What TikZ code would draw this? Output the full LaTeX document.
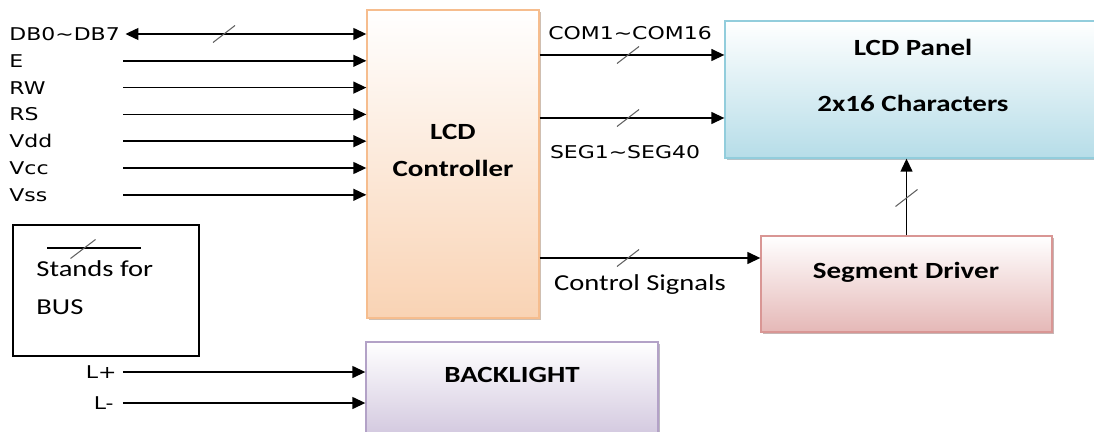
\documentclass[tikz,border=0pt]{standalone}
\usepackage{fontspec}
\usetikzlibrary{arrows.meta,shadows}
\newfontfamily\dvs{DejaVu Sans}
\newfontfamily\carl{Carlito}
\definecolor{ctrlfill}{HTML}{F9D3B4}
\definecolor{ctrlline}{HTML}{F6BD8E}
\definecolor{panelfill}{HTML}{B6DDE8}
\definecolor{panelline}{HTML}{92CDDC}
\definecolor{drvfill}{HTML}{E5B8B7}
\definecolor{drvline}{HTML}{D99694}
\definecolor{lightfill}{HTML}{CCC0DA}
\definecolor{lightline}{HTML}{B3A2C7}
\begin{document}
\begin{tikzpicture}[x=0.02cm,y=-0.02cm,
	sig/.style={font=\dvs\fontsize{10}{12}\selectfont, inner sep=0pt, xscale=1.25, transform shape},
	note/.style={font=\carl\fontsize{13}{15}\selectfont, inner sep=0pt, xscale=1.25, transform shape},
	head/.style={font=\carl\bfseries\fontsize{13.2}{15}\selectfont, inner sep=0pt, xscale=1.25, transform shape},
	blk/.style={draw=#1line, line width=0.8pt, top color=white, bottom color=#1fill,
		drop shadow={shadow xshift=1pt, shadow yshift=-1.2pt, fill=#1line!60!black, opacity=.45}},
	wire/.style={line width=0.85pt, -{Triangle[length=7.4pt,width=6.8pt]}},
	busmark/.style={draw=gray!75!black, line width=0.6pt}]
	\useasboundingbox (0,0) rectangle (1094,432);
	
	% blocks
	\node[blk=ctrl, minimum width=3.44cm, minimum height=6.16cm] (ctrl) at (453,164) {};
	\node[blk=panel, minimum width=8.4cm, minimum height=2.74cm] (panel) at (935,89.5) {};
	\node[blk=drv, minimum width=5.82cm, minimum height=1.92cm] (drv) at (906.5,284) {};
	\node[blk=light, minimum width=5.84cm, minimum height=2.16cm] (light) at (512,396) {};
	\node[draw, line width=0.8pt, minimum width=3.72cm, minimum height=2.62cm] (key) at (106,290.5) {};
	
	\node[head] (ctrla) at (453,132) {LCD};
	\node[head] (ctrlb) at (453,168) {Controller};
	\node[head] (panela) at (913,47) {LCD Panel};
	\node[head] (panelb) at (913,103) {2x16 Characters};
	\node[head] (drvt) at (906,272) {Segment Driver};
	\node[head] (lightt) at (512,375) {BACKLIGHT};
	
	% inputs of the controller
	\node[sig, anchor=west] (db) at (9,34) {DB0\textasciitilde DB7};
	\draw[wire, {Triangle[length=7.4pt,width=6.8pt]}-{Triangle[length=7.4pt,width=6.8pt]}, shorten <=3pt] (db.east) -- (db.east -| ctrl.west);
	\draw[busmark] (224,34) +(-11,8.5) -- +(11,-8.5);
	\foreach \t [count=\i] in {E,RW,RS,Vdd,Vcc,Vss}{
		\node[sig, anchor=west] (in\i) at (9,{34+26.8*\i}) {\t};
		\coordinate (src\i) at (123,{34+26.8*\i});
		\draw[wire] (src\i) -- (src\i -| ctrl.west);
	}
	
	% outputs of the controller
	\coordinate (comy) at (600,55);
	\node[sig] (com) at (630,33) {COM1\textasciitilde COM16};
	\draw[wire] (comy -| ctrl.east) -- (comy -| panel.west);
	\draw[busmark] (628,55) +(-11,8.5) -- +(11,-8.5);
	
	\coordinate (segy) at (600,118);
	\node[sig] (seg) at (625,152) {SEG1\textasciitilde SEG40};
	\draw[wire] (segy -| ctrl.east) -- (segy -| panel.west);
	\draw[busmark] (628,118) +(-11,8.5) -- +(11,-8.5);
	
	\coordinate (ctly) at (600,258);
	\node[note] (ctl) at (640,285) {Control Signals};
	\draw[wire] (ctly -| ctrl.east) -- (ctly -| drv.west);
	\draw[busmark] (628,258) +(-11,8.5) -- +(11,-8.5);
	
	\draw[wire] (drv.north) -- (drv.north |- panel.south);
	\draw[busmark] (906.5,198) +(-11,8.5) -- +(11,-8.5);
	
	% backlight
	\node[sig, anchor=east] (lp) at (117,372) {L+};
	\node[sig, anchor=east] (lm) at (114,403) {L-};
	\draw[wire, shorten <=3.4pt] (lp.east) -- (lp.east -| light.west);
	\draw[wire, shorten <=5pt] (lm.east) -- (lm.east -| light.west);
	
	% legend
	\coordinate (keya) at (47,248);
	\coordinate (keyb) at (141,248);
	\draw[line width=0.8pt] (keya) -- (keyb);
	\draw[busmark] (83,249) +(-12.5,9.5) -- +(12.5,-9.5);
	\node[note, anchor=west] (keyt) at (36,269) {Stands for};
	\node[note, anchor=west] (keyu) at (36,307) {BUS};
\end{tikzpicture}
\end{document}
